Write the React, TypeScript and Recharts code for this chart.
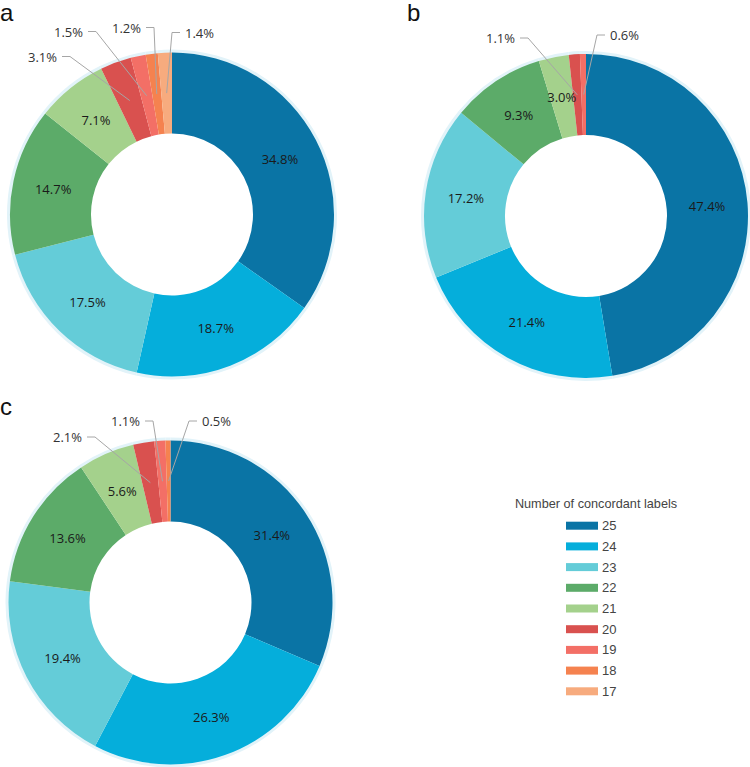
import React from 'react';
import { PieChart, Pie, Cell } from 'recharts';

const CATEGORIES = ['25', '24', '23', '22', '21', '20', '19', '18', '17'];
const COLORS = ['#0a74a5', '#05aedb', '#64ccd8', '#5cab69', '#a4d18c', '#d9514f', '#f36f66', '#f5824f', '#f7ab7e'];
const VALUES_A = [34.8, 18.7, 17.5, 14.7, 7.1, 3.1, 1.5, 1.2, 1.4];
const VALUES_B = [47.4, 21.4, 17.2, 9.3, 3.0, 1.1, 0.6];
const VALUES_C = [31.4, 26.3, 19.4, 13.6, 5.6, 2.1, 1.1, 0.5];
const LEGEND_TITLE = 'Number of concordant labels';
const PANEL_LETTERS = ['a', 'b', 'c'];

// layout (not data): line-start offsets of outside labels relative to pie centre
const OUTSIDE_A: Record<string, [number, number]> = { '20': [-110, -158], '19': [-84, -183], '18': [-26, -187], '17': [8, -182] };
const OUTSIDE_B: Record<string, [number, number]> = { '20': [-66, -178], '19': [19, -181] };
const OUTSIDE_C: Record<string, [number, number]> = { '20': [-83.5, -165.5], '19': [-25.5, -181.5], '18': [26.5, -181.5] };

const build = (vals: number[]) => vals.map((v, i) => ({ name: CATEGORIES[i], value: v }));
const DATA_A = build(VALUES_A);
const DATA_B = build(VALUES_B);
const DATA_C = build(VALUES_C);

const RAD = Math.PI / 180;
const INNER = 81;
const OUTER = 162;

const makeLabel = (outside: Record<string, [number, number]>) => (props: any) => {
  const { cx, cy, midAngle, innerRadius, outerRadius, value, index } = props;
  const name = props.payload?.name ?? props.name ?? CATEGORIES[index];
  const r = (innerRadius + outerRadius) / 2;
  const mx = cx + r * Math.cos(-midAngle * RAD);
  const my = cy + r * Math.sin(-midAngle * RAD);
  const text = `${Number(value).toFixed(1)}%`;
  const off = outside[name];
  if (off) {
    const sx = cx + off[0];
    const sy = cy + off[1];
    const left = off[0] < 0;
    const ex = left ? sx + 8 : sx - 8;
    return (
      <g key={`l-${index}`}>
        <polyline points={`${sx},${sy} ${ex},${sy} ${mx},${my}`} fill="none" stroke="#a6a6a6" strokeWidth={1} />
        <text x={left ? sx - 5 : sx + 5} y={sy} textAnchor={left ? 'end' : 'start'} dominantBaseline="central"
          fontFamily="'Open Sans', sans-serif" fontSize={13} fill="#333">{text}</text>
      </g>
    );
  }
  return (
    <text key={`l-${index}`} x={mx} y={my} textAnchor="middle" dominantBaseline="central"
      fontFamily="'Open Sans', sans-serif" fontSize={13} fill="#1a1a1a">{text}</text>
  );
};

const PIES = [
  { data: DATA_A, cx: 172, cy: 214.5, outside: OUTSIDE_A },
  { data: DATA_B, cx: 586, cy: 216, outside: OUTSIDE_B },
  { data: DATA_C, cx: 170.5, cy: 602.5, outside: OUTSIDE_C },
];

const LETTER_POS = [
  { left: 0, top: 1 },
  { left: 407, top: 1 },
  { left: 0, top: 395 },
];

export default function App() {
  return (
    <div style={{ position: 'absolute', left: 0, top: 0, width: 750, height: 767, background: '#fff', overflow: 'hidden' }}>
      <PieChart width={750} height={767} margin={{ top: 0, right: 0, bottom: 0, left: 0 }}>
        {PIES.map((p, k) => (
          <Pie key={`halo-${k}`} data={p.data} dataKey="value" nameKey="name" cx={p.cx} cy={p.cy}
            innerRadius={OUTER - 2} outerRadius={OUTER + 3} startAngle={90} endAngle={-270}
            stroke="none" isAnimationActive={false} label={false} labelLine={false}>
            {p.data.map((d, i) => <Cell key={i} fill="#e2f3f9" />)}
          </Pie>
        ))}
        {PIES.map((p, k) => (
          <Pie key={`pie-${k}`} data={p.data} dataKey="value" nameKey="name" cx={p.cx} cy={p.cy}
            innerRadius={INNER} outerRadius={OUTER} startAngle={90} endAngle={-270}
            stroke="none" isAnimationActive={false} labelLine={false} label={makeLabel(p.outside)}>
            {p.data.map((d, i) => <Cell key={i} fill={COLORS[i]} />)}
          </Pie>
        ))}
      </PieChart>
      {PANEL_LETTERS.map((l, i) => (
        <div key={l} style={{ position: 'absolute', left: LETTER_POS[i].left, top: LETTER_POS[i].top, fontFamily: "'Liberation Sans', Arial, sans-serif", fontSize: 24, lineHeight: '24px', color: '#111' }}>{l}</div>
      ))}
      <svg style={{ position: 'absolute', left: 0, top: 0 }} width={750} height={767}>
        <text x={596} y={508} textAnchor="middle" fontFamily="'Liberation Sans', Arial, sans-serif" fontSize={12.7} fill="#444">{LEGEND_TITLE}</text>
        {CATEGORIES.map((c, i) => {
          const y = 525.7 + 20.7 * i;
          return (
            <g key={c}>
              <rect x={566} y={y - 4} width={32} height={8} fill={COLORS[i]} />
              <text x={602} y={y} dominantBaseline="central" fontFamily="'Liberation Sans', Arial, sans-serif" fontSize={13} fill="#444">{c}</text>
            </g>
          );
        })}
      </svg>
    </div>
  );
}
